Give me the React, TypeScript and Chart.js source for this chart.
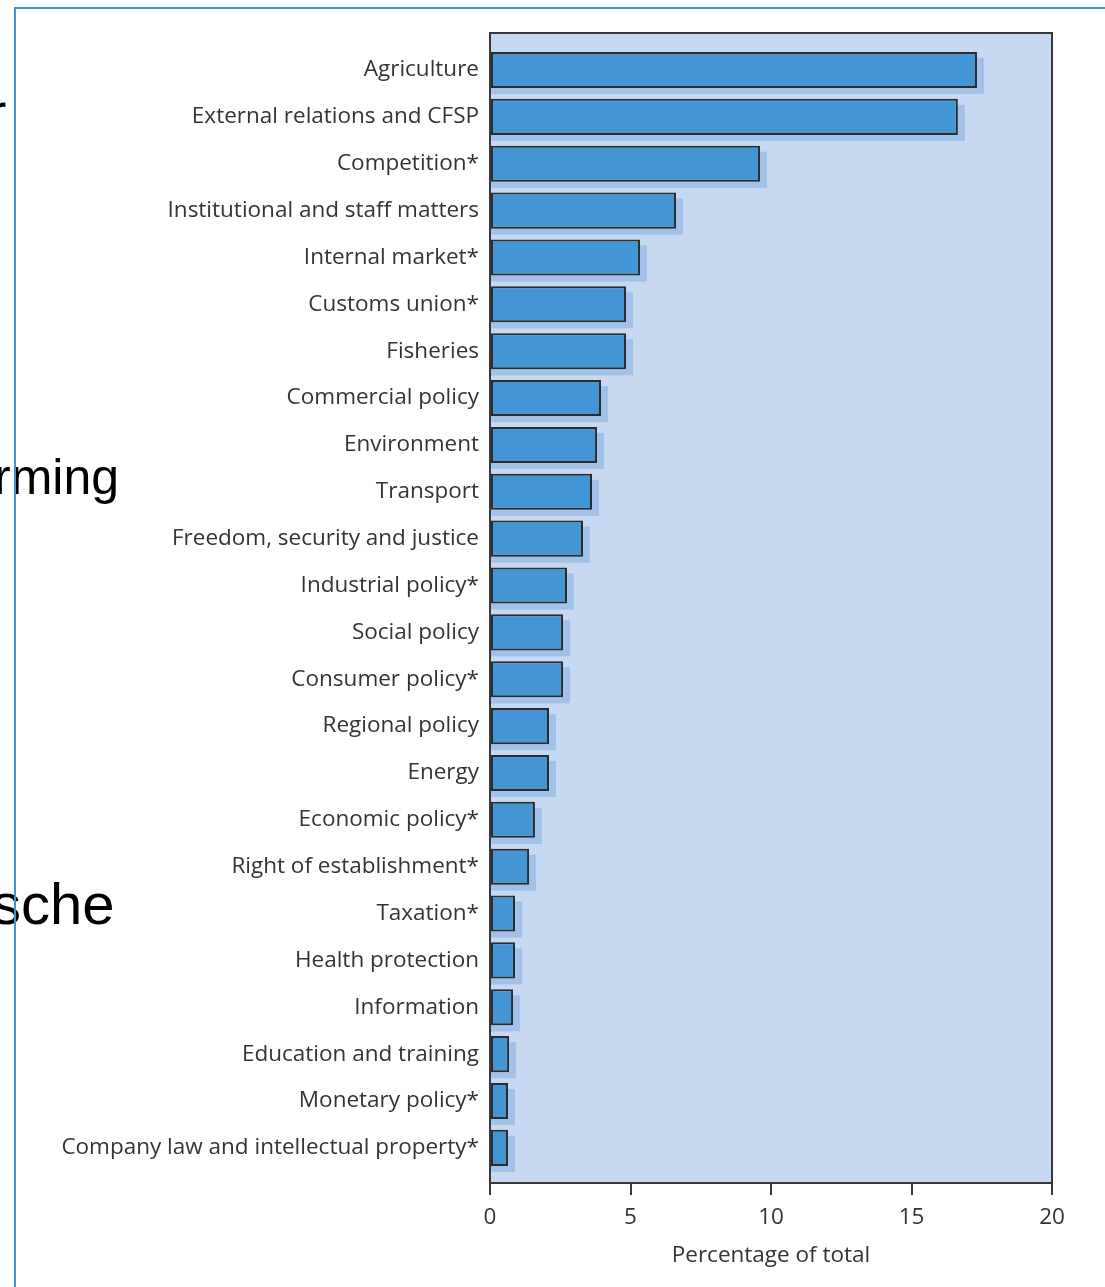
import React, { useEffect, useRef } from "react";
import { Chart, registerables } from "chart.js";

Chart.register(...registerables);

const categories = [
  "Agriculture",
  "External relations and CFSP",
  "Competition*",
  "Institutional and staff matters",
  "Internal market*",
  "Customs union*",
  "Fisheries",
  "Commercial policy",
  "Environment",
  "Transport",
  "Freedom, security and justice",
  "Industrial policy*",
  "Social policy",
  "Consumer policy*",
  "Regional policy",
  "Energy",
  "Economic policy*",
  "Right of establishment*",
  "Taxation*",
  "Health protection",
  "Information",
  "Education and training",
  "Monetary policy*",
  "Company law and intellectual property*",
];

const values = [
  17.33, 16.65, 9.61, 6.62, 5.34, 4.84, 4.84, 3.95, 3.81, 3.63, 3.31, 2.74,
  2.6, 2.6, 2.1, 2.1, 1.6, 1.39, 0.89, 0.89, 0.82, 0.68, 0.64, 0.64,
];

const xTickValues = [0, 5, 10, 15, 20];
const xTitle = "Percentage of total";
const fragments = ["r", "rming", "sche"];

const FONT = "'Open Sans', 'Noto Sans', sans-serif";
const FONT_SIZE = 22.5;
const TEXT = "#333338";

const plotBg = {
  id: "plotBg",
  beforeDraw(chart: any) {
    const { ctx, chartArea: a } = chart;
    ctx.save();
    ctx.fillStyle = "#c6d9f0";
    ctx.fillRect(a.left, a.top, a.right - a.left, a.bottom - a.top);
    ctx.restore();
  },
  beforeDatasetsDraw(chart: any) {
    const { ctx, chartArea: a } = chart;
    const meta = chart.getDatasetMeta(0);
    ctx.save();
    ctx.beginPath();
    ctx.rect(a.left, a.top, a.right - a.left, a.bottom - a.top);
    ctx.clip();
    ctx.fillStyle = "#a3c1e6";
    meta.data.forEach((el: any) => {
      const p = el.getProps(["x", "y", "base", "height"], true);
      ctx.fillRect(p.base, p.y - p.height / 2 + 6, p.x - p.base + 7, p.height);
    });
    ctx.restore();
  },
  afterDatasetsDraw(chart: any) {
    const { ctx, chartArea: a } = chart;
    ctx.save();
    ctx.strokeStyle = "#3a3a3a";
    ctx.lineWidth = 2;
    ctx.strokeRect(a.left, a.top, a.right - a.left, a.bottom - a.top);
    ctx.restore();
  },
};

function BarChart() {
  const ref = useRef<HTMLCanvasElement | null>(null);
  useEffect(() => {
    let chart: Chart | null = null;
    let cancelled = false;
    const make = () => {
      if (cancelled || !ref.current) return;
      chart = new Chart(ref.current, {
        type: "bar",
        data: {
          datasets: [
            {
              data: values.map((v, i) => ({ x: v, y: i })) as any,
              backgroundColor: "#4396d3",
              borderColor: "#2c2c2e",
              borderWidth: 2,
              borderSkipped: false,
              categoryPercentage: 1,
              barPercentage: 0.77,
            },
          ],
        },
        options: {
          indexAxis: "y",
          animation: false,
          responsive: false,
          maintainAspectRatio: false,
          devicePixelRatio: 1,
          layout: { padding: { top: 33, right: 53, left: 0, bottom: 0 } },
          plugins: { legend: { display: false }, tooltip: { enabled: false } },
          scales: {
            y: {
              type: "linear",
              reverse: true,
              offset: false,
              bounds: "data",
              min: -0.79,
              max: 23.75,
              afterDataLimits: (s: any) => {
                s.min = -0.79;
                s.max = 23.75;
              },
              afterBuildTicks: (s: any) => {
                s.ticks = categories.map((_, i) => ({ value: i }));
                s.min = -0.79;
                s.max = 23.75;
              },
              afterFit: (s: any) => {
                s.width = 490;
              },
              grid: { display: false, drawTicks: false },
              border: { display: false },
              ticks: {
                autoSkip: false,
                padding: 11,
                color: TEXT,
                font: { family: FONT, size: FONT_SIZE },
                callback: (v: any) => categories[v] ?? "",
              },
            },
            x: {
              type: "linear",
              min: 0,
              max: 20,
              afterBuildTicks: (s: any) => {
                s.ticks = xTickValues.map((v) => ({ value: v }));
              },
              afterFit: (s: any) => {
                s.height = 104;
              },
              grid: {
                drawOnChartArea: false,
                drawTicks: true,
                tickLength: 12,
                color: "#3a3a3a",
                lineWidth: 2,
              },
              border: { display: true, color: "#3a3a3a", width: 2 },
              ticks: {
                padding: 9,
                color: TEXT,
                font: { family: FONT, size: FONT_SIZE },
              },
              title: {
                display: true,
                text: xTitle,
                color: TEXT,
                font: { family: FONT, size: FONT_SIZE },
                padding: { top: 4, bottom: 18 },
              },
            },
          },
        },
        plugins: [plotBg],
      });
    };
    const fontsApi: any = (document as any).fonts;
    if (fontsApi && fontsApi.load) {
      fontsApi.load("22px 'Open Sans'").then(make, make);
    } else {
      make();
    }
    return () => {
      cancelled = true;
      if (chart) chart.destroy();
    };
  }, []);
  return (
    <canvas
      ref={ref}
      width={1105}
      height={1287}
      style={{ position: "absolute", left: 0, top: 0, width: 1105, height: 1287 }}
    />
  );
}

const fragStyle: React.CSSProperties = {
  position: "absolute",
  fontFamily: "'Liberation Sans', Arial, sans-serif",
  color: "#000",
  whiteSpace: "nowrap",
};

export default function App() {
  return (
    <div
      style={{
        position: "absolute",
        left: 0,
        top: 0,
        width: 1105,
        height: 1287,
        overflow: "hidden",
        background: "#fff",
      }}
    >
      <BarChart />
      <div style={{ ...fragStyle, fontSize: 52, lineHeight: "52px", left: -11, top: 86 }}>
        {fragments[0]}
      </div>
      <div style={{ ...fragStyle, fontSize: 50, lineHeight: "50px", left: -6, top: 452 }}>
        {fragments[1]}
      </div>
      <div style={{ ...fragStyle, fontSize: 58, lineHeight: "58px", left: -8, top: 875 }}>
        {fragments[2]}
      </div>
      <div
        style={{
          position: "absolute",
          left: 14,
          top: 7,
          right: 0,
          bottom: 0,
          borderLeft: "2px solid #3d95d8",
          borderTop: "2px solid #3d95d8",
        }}
      />
    </div>
  );
}
